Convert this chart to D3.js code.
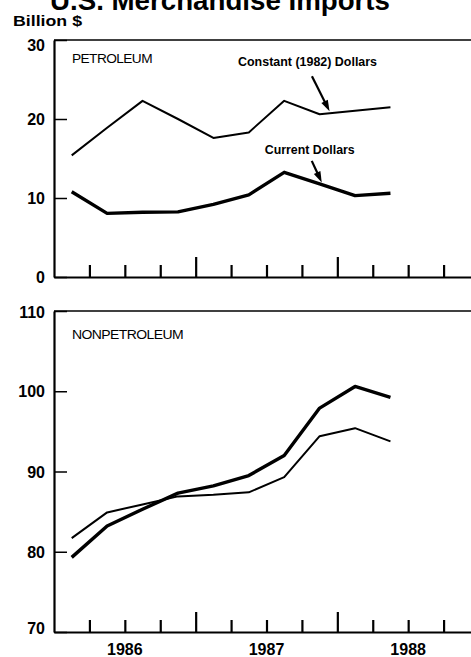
<!DOCTYPE html>
<html>
<head>
<meta charset="utf-8">
<script src="https://cdn.jsdelivr.net/npm/d3@7"></script>
<style>
  html, body { margin: 0; padding: 0; background: #fff; }
  svg { display: block; }
  text { font-family: "Liberation Sans", Arial, Helvetica, sans-serif; fill: #000; }
</style>
</head>
<body>
<script>
// ---- data ----
const quarters = ["1986Q1","1986Q2","1986Q3","1986Q4","1987Q1","1987Q2","1987Q3","1987Q4","1988Q1","1988Q2"];
const petroConstant    = [15.4, 18.9, 22.3, 20.0, 17.6, 18.3, 22.3, 20.6, 21.05, 21.5];
const petroCurrent     = [10.8, 8.06, 8.2, 8.25, 9.2, 10.4, 13.25, 11.8, 10.3, 10.6];
const nonpetroConstant = [81.7, 84.9, 85.9, 86.9, 87.1, 87.4, 89.3, 94.4, 95.4, 93.75];
const nonpetroCurrent  = [79.3, 83.2, 85.3, 87.3, 88.2, 89.5, 92.0, 97.9, 100.6, 99.25];
const petroTicks = [0, 10, 20, 30];
const nonpetroTicks = [70, 80, 90, 100, 110];
const yearLabels = ["1986", "1987", "1988"];
const quarterTicks = d3.range(1, 12);       // quarter boundaries
const annoTexts = ["Constant (1982) Dollars", "Current Dollars"];
const annoAt = [7.28, 7.06];                // fractional quarter index on the line

// ---- layout ----
const W = 471, H = 657;
const svg = d3.select("body").append("svg").attr("width", W).attr("height", H);

const x = d3.scaleLinear().domain([0, 12]).range([54, 479]);
const xi = i => x(i + 0.5);

// Title (cut off at top as in the source)
svg.append("text").attr("x", 220).attr("y", 10)
  .attr("text-anchor", "middle").attr("font-size", 27).attr("font-weight", "bold")
  .attr("textLength", 340).attr("lengthAdjust", "spacingAndGlyphs")
  .text("U.S. Merchandise Imports");

svg.append("text").attr("x", 13).attr("y", 26)
  .attr("font-size", 15).attr("font-weight", "bold")
  .attr("textLength", 69).attr("lengthAdjust", "spacingAndGlyphs")
  .text("Billion $");

function panel(domain, range, ticks, thin, thick, label, labelW, labelY, nudges) {
  const y = d3.scaleLinear().domain(domain).range(range);
  const g = svg.append("g");

  // top frame line
  g.append("line").attr("x1", 54).attr("x2", W).attr("y1", range[1]).attr("y2", range[1])
    .attr("stroke", "#000").attr("stroke-width", 1.5);

  // y axis
  const ya = g.append("g").attr("transform", "translate(54,0)")
    .call(d3.axisLeft(y).tickValues(ticks).tickSize(-13).tickSizeOuter(0).tickPadding(9));
  ya.select(".domain").attr("stroke-width", 2.2);
  ya.selectAll(".tick line").attr("stroke-width", 1.5);
  ya.selectAll(".tick text")
    .attr("font-family", "'Liberation Sans', Arial, sans-serif")
    .attr("font-size", 16).attr("font-weight", "bold").attr("fill", "#000")
    .attr("dy", d => (nudges[d] || 0) + 5.5);

  // x axis with upward ticks
  const xa = g.append("g").attr("transform", `translate(0,${range[0]})`)
    .call(d3.axisTop(x).tickValues(quarterTicks).tickSize(12).tickSizeOuter(0).tickFormat(""));
  xa.select(".domain").attr("stroke-width", 2.2);
  xa.selectAll(".tick line").attr("stroke-width", 2.2)
    .attr("y2", d => d % 4 === 0 ? -20 : -12);

  const line = d3.line().x((d, i) => xi(i)).y(d => y(d));
  g.append("path").datum(thin).attr("d", line)
    .attr("fill", "none").attr("stroke", "#000").attr("stroke-width", 2)
    .attr("stroke-linejoin", "round");
  g.append("path").datum(thick).attr("d", line)
    .attr("fill", "none").attr("stroke", "#000").attr("stroke-width", 3.4)
    .attr("stroke-linejoin", "round");

  g.append("text").attr("x", 72).attr("y", labelY)
    .attr("font-size", 12).attr("textLength", labelW).attr("lengthAdjust", "spacingAndGlyphs")
    .attr("letter-spacing", -0.5)
    .text(label);
  return y;
}

const yP = panel([0, 30], [277, 40], petroTicks, petroConstant, petroCurrent,
  "PETROLEUM", 80, 63, {30: 5, 0: 0});
const yN = panel([70, 110], [632, 311], nonpetroTicks, nonpetroConstant, nonpetroCurrent,
  "NONPETROLEUM", 111, 339, {110: 1, 70: -4});

// annotations with arrows in the petroleum panel
function valAt(arr, p) {
  const i = Math.floor(p), t = p - i;
  return arr[i] + (arr[Math.min(i + 1, arr.length - 1)] - arr[i]) * t;
}
const annoSeries = [petroConstant, petroCurrent];
const tailOff = [[-17.6, -35], [-10, -21.6]];
const textOff = [[-22, -45], [-12, -28.5]];
const textW = [139, 90];
annoTexts.forEach((txt, k) => {
  const tx = x(annoAt[k] + 0.5);
  const ty = yP(valAt(annoSeries[k], annoAt[k])) - 2;
  const sx = tx + tailOff[k][0], sy = ty + tailOff[k][1];
  const dx = tx - sx, dy = ty - sy, len = Math.hypot(dx, dy);
  const ux = dx / len, uy = dy / len, hl = 11, hw = 3.6;
  const bx = tx - ux * hl, by = ty - uy * hl;
  svg.append("line").attr("x1", sx).attr("y1", sy).attr("x2", bx + ux * 2).attr("y2", by + uy * 2)
    .attr("stroke", "#000").attr("stroke-width", 2.2);
  svg.append("path")
    .attr("d", `M${tx},${ty}L${bx - uy * hw},${by + ux * hw}L${bx + uy * hw},${by - ux * hw}Z`)
    .attr("fill", "#000");
  svg.append("text").attr("x", tx + textOff[k][0]).attr("y", ty + textOff[k][1])
    .attr("text-anchor", "middle").attr("font-size", 13).attr("font-weight", "bold")
    .attr("textLength", textW[k]).attr("lengthAdjust", "spacingAndGlyphs")
    .text(txt);
});

// year labels
svg.append("g").selectAll("text").data(yearLabels).join("text")
  .attr("x", (d, i) => x(2 + 4 * i)).attr("y", 655)
  .attr("text-anchor", "middle").attr("font-size", 16).attr("font-weight", "bold")
  .text(d => d);
</script>
</body>
</html>
